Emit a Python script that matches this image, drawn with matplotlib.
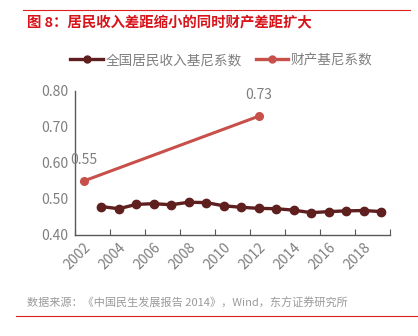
import numpy as np
import matplotlib
matplotlib.use("Agg")
import matplotlib.pyplot as plt
from matplotlib.lines import Line2D

plt.rcParams["font.family"] = ["Noto Sans CJK SC", "DejaVu Sans"]

YEARS = list(range(2002, 2020))
INCOME_GINI = [np.nan, 0.479, 0.473, 0.485, 0.487, 0.484, 0.491, 0.490, 0.481,
               0.477, 0.474, 0.473, 0.469, 0.462, 0.465, 0.467, 0.468, 0.465]
WEALTH_YEARS = [2002, 2012]
WEALTH_GINI = [0.55, 0.73]
YTICKS = [0.40, 0.50, 0.60, 0.70, 0.80]

DARK = "#5E1F1E"
RED = "#C8504B"
GREY = "#7F7F7F"

fig = plt.figure(figsize=(4.18, 3.36), dpi=100)
ax = fig.add_axes([75 / 418, 1 - 235 / 336, 315 / 418, 144 / 336])

xi = np.arange(len(YEARS))
ax.plot(xi, INCOME_GINI, "-o", color=DARK, lw=2.4, ms=6, zorder=3)
wx = [YEARS.index(y) for y in WEALTH_YEARS]
ax.plot(wx, WEALTH_GINI, "-o", color=RED, lw=2.2, ms=5.5, zorder=3)
for x, v in zip(wx, WEALTH_GINI):
    ax.annotate(f"{v:.2f}", (x, v), xytext=(0, 10), textcoords="offset points",
                ha="center", va="bottom", fontsize=10, color=GREY)

ax.set_xlim(-0.5, len(YEARS) - 0.5)
ax.set_ylim(0.40, 0.80)
ax.set_yticks(YTICKS)
ax.set_yticklabels([f"{t:.2f}" for t in YTICKS], fontsize=10, color=GREY)
ax.tick_params(axis="y", length=0, pad=5)

ax.set_xticks(np.arange(-0.5, len(YEARS), 2))
ax.set_xticklabels([])
ax.tick_params(axis="x", which="major", direction="in", length=4, color="#595959")
ax.set_xticks(xi[::2], minor=True)
ax.set_xticklabels([str(y) for y in YEARS[::2]], minor=True, rotation=45, ha="right",
                   va="top", rotation_mode="anchor", fontsize=10, color=GREY)
ax.tick_params(axis="x", which="minor", length=0, pad=4)

for s in ["top", "right"]:
    ax.spines[s].set_visible(False)
for s in ["left", "bottom"]:
    ax.spines[s].set_color("#595959")
    ax.spines[s].set_linewidth(1.0)

handles = [Line2D([], [], color=DARK, lw=2.4, marker="o", ms=5),
           Line2D([], [], color=RED, lw=2.4, marker="o", ms=5)]
fig.legend(handles, ["全国居民收入基尼系数", "财产基尼系数"], loc="center left",
           bbox_to_anchor=(58 / 418, 1 - 60 / 336), ncol=2, frameon=False,
           handlelength=2.4, handletextpad=0.2, columnspacing=1.0,
           labelcolor=GREY, prop={"size": 9.8})

fig.add_artist(Line2D([23 / 418, 410 / 418], [1 - 10 / 336] * 2, color="#E0201F", lw=0.8))
fig.add_artist(Line2D([16 / 418, 1.0], [1 - 316 / 336] * 2, color="#E0201F", lw=0.8))
fig.text(27 / 418, 1 - 23 / 336, "图 8：居民收入差距缩小的同时财产差距扩大", fontsize=10.4,
         fontweight="bold", color="#D8141B", va="center", ha="left")
fig.text(27 / 418, 1 - 303 / 336, "数据来源：《中国民生发展报告 2014》，Wind，东方证券研究所",
         fontsize=8, color="#9A9A9A", va="center", ha="left")

fig.savefig("out.png", dpi=100)
